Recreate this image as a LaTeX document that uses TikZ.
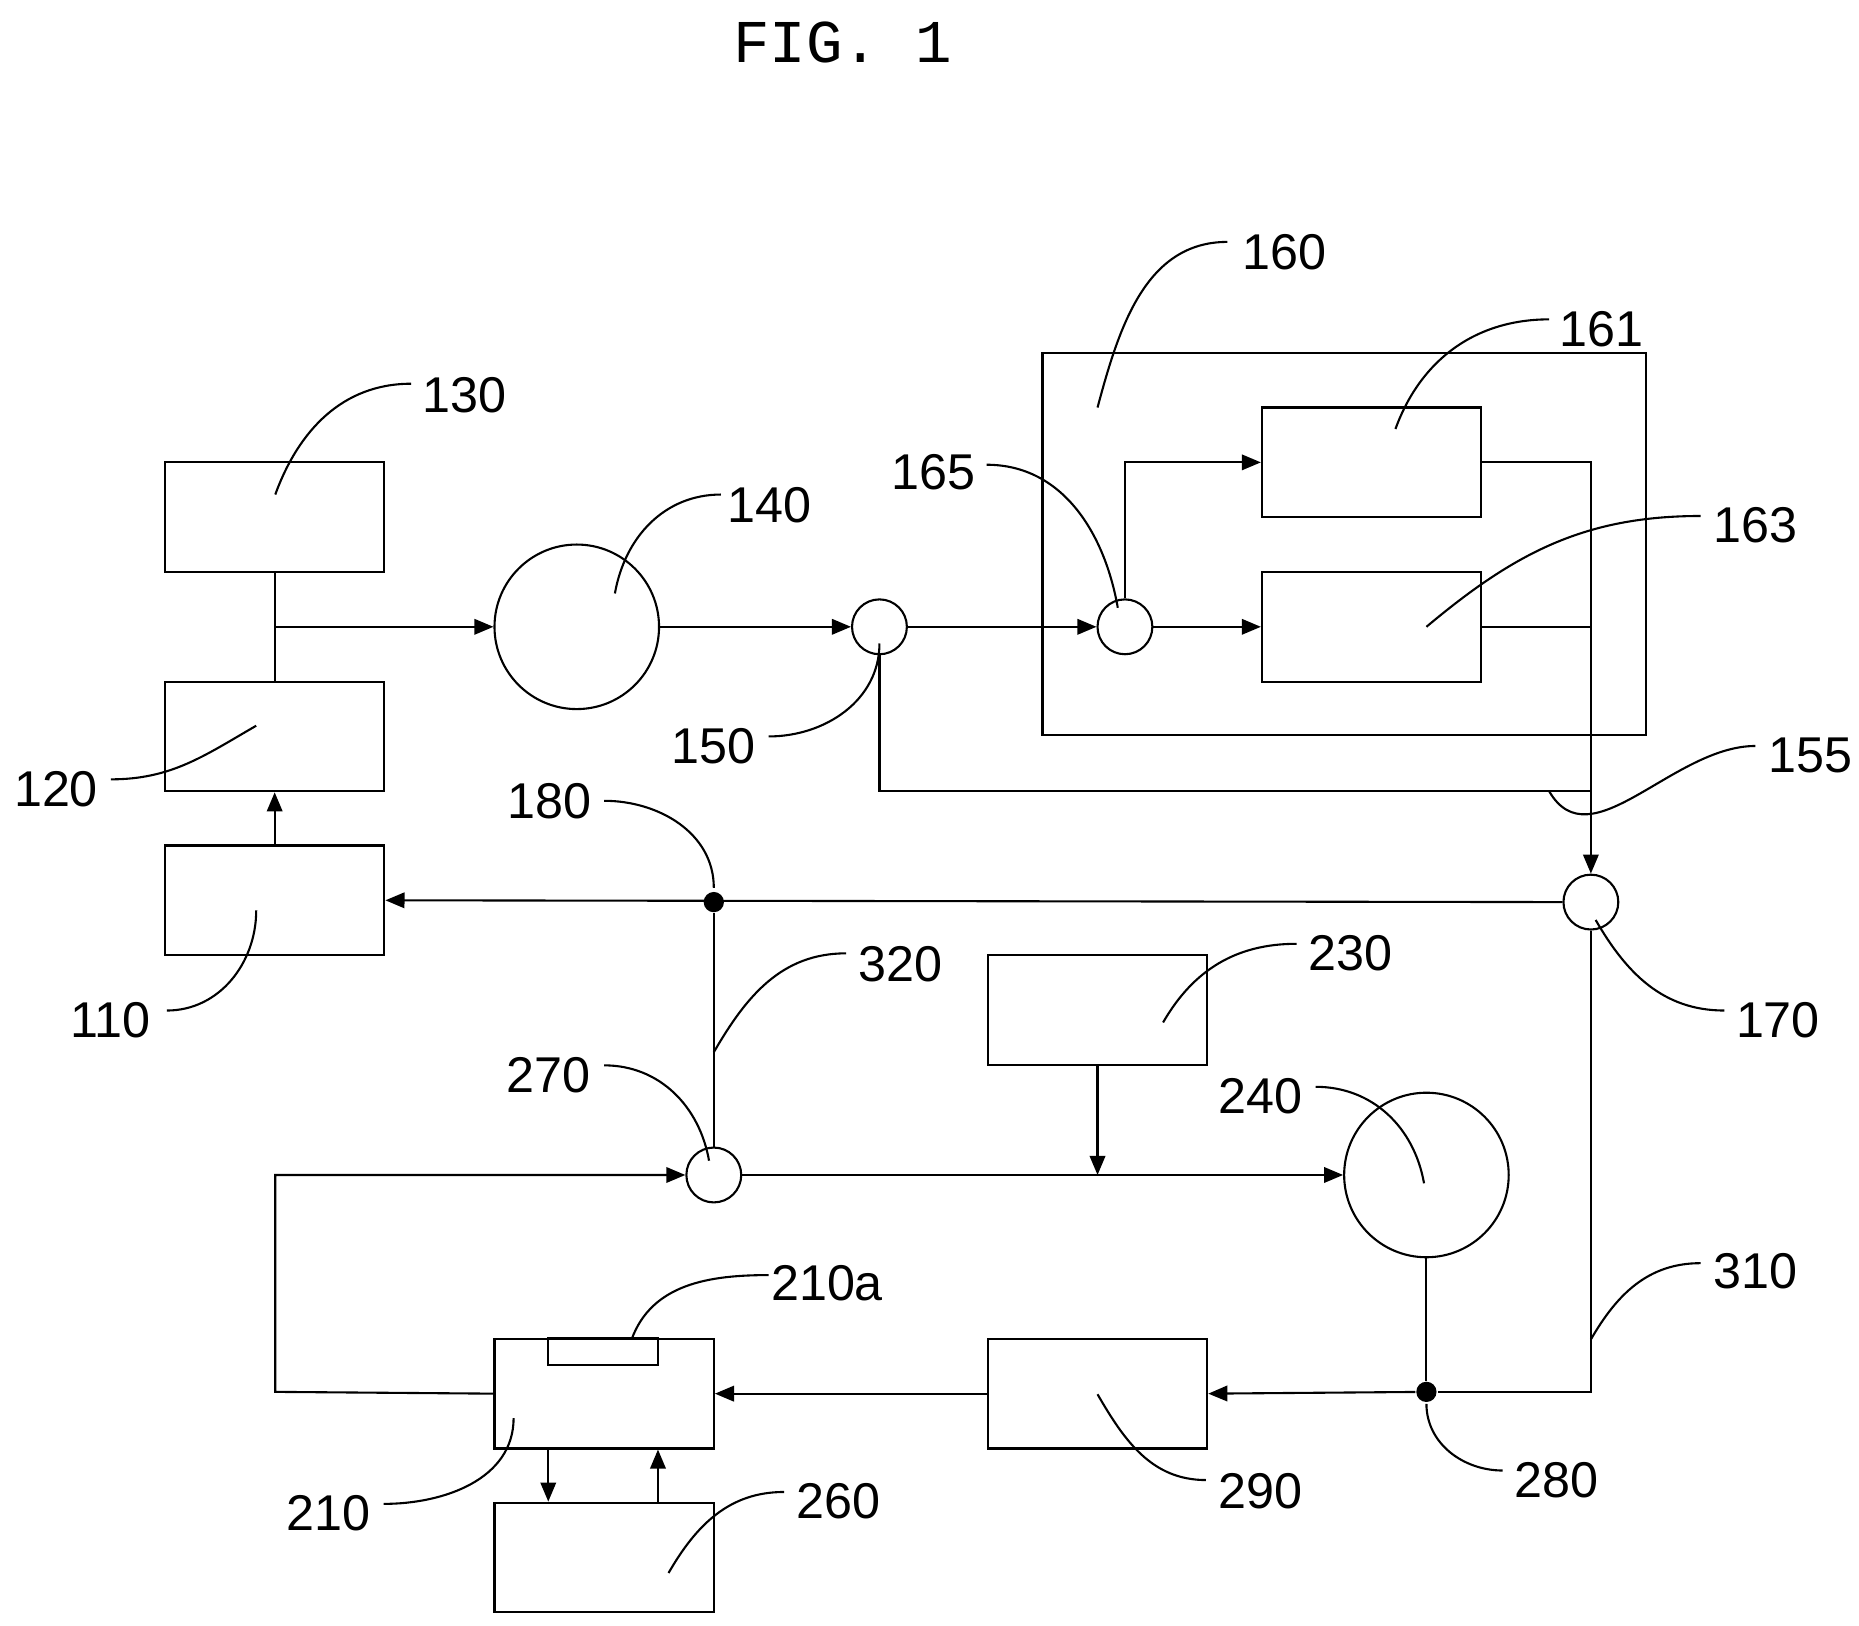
\documentclass[tikz,border=0pt]{standalone}
\usepackage{fontspec}
\setmainfont{Liberation Sans}
\newfontfamily\monofont{Liberation Mono}
\usetikzlibrary{arrows.meta}
\begin{document}
\begin{tikzpicture}[x=0.01cm,y=-0.01cm,line width=0.5pt,
  box/.style={draw,minimum width=1.84cm,minimum height=0.92cm,inner sep=0},
  sc/.style={draw,circle,minimum size=0.46cm,inner sep=0},
  bc/.style={draw,circle,minimum size=1.38cm,inner sep=0},
  dot/.style={fill,circle,minimum size=0.17cm,inner sep=0},
  arr/.style={-{Triangle[length=0.16cm,width=0.13cm]}},
  lab/.style={font=\fontsize{12}{12}\selectfont,inner sep=1pt},
  lead/.style={line width=0.5pt}]
\useasboundingbox (0,0) rectangle (1560,1364);
\node[font=\monofont\fontsize{14.5}{14.5}\selectfont] (title) at (707,36) {FIG. 1};
% blocks
\node[box] (b130) at (230.5,434) {};
\node[box] (b120) at (230.5,618) {};
\node[box] (b110) at (230.5,755.5) {};
\node[bc] (c140) at (484,526) {};
\node[sc] (c150) at (738,526) {};
\node[draw,minimum width=5.06cm,minimum height=3.21cm,inner sep=0] (b160) at (1128,456.5) {};
\node[sc] (c165) at (944,526) {};
\node[box] (b161) at (1151,388) {};
\node[box] (b163) at (1151,526) {};
\node[sc] (c170) at (1335,757) {};
\node[dot] (d180) at (599,757) {};
\node[sc] (c270) at (599,986) {};
\node[box] (b230) at (921,847.5) {};
\node[bc] (c240) at (1197,986) {};
\node[box] (b210) at (507,1169.5) {};
\node[box] (b290) at (921,1169.5) {};
\node[box] (b260) at (507,1307) {};
\node[dot] (d280) at (1197,1168) {};
\coordinate (j155) at (1335,664);
\coordinate (jL) at (231,1168);
% connectors
\draw (b130.south) -- (b120.north);
\draw[arr] (b130.south |- c140.west) -- (c140.west);
\draw[arr] (c140.east) -- (c150.west);
\draw[arr] (c150.east) -- (c165.west);
\draw[arr] (c165.east) -- (b163.west);
\draw[arr] (c165.north) |- (b161.west);
\draw[arr] (b161.east) -| (c170.north);
\draw (b163.east) -- (b163.east -| c170.north);
\draw (c150.south) |- (j155);
\draw[arr] (c170.west) -- (b110.east);
\draw[arr] (b110.north) -- (b120.south);
\draw (d180) -- (c270.north);
\draw[arr] (b230.south) -- (b230.south |- c270.east);
\draw[arr] (c270.east) -- (c240.west);
\draw[arr] (b210.west) -- (jL) |- (c270.west);
\draw (c240.south) -- (d280);
\draw (c170.south) |- (d280);
\draw[arr] (d280) -- (b290.east);
\draw[arr] (b290.west) -- (b210.east);
\draw[arr] ([xshift=0.46cm]b210.south west) -- ([xshift=0.46cm]b260.north west);
\draw[arr] ([xshift=1.38cm]b260.north west) -- ([xshift=1.38cm]b210.south west);
\draw ([xshift=0.46cm]b210.north west) rectangle ([xshift=1.38cm,yshift=-0.23cm]b210.north west);
% labels
\node[lab] (l130) at (390,332) {130};
\node[lab] (l140) at (646,424) {140};
\node[lab] (l165) at (783,396) {165};
\node[lab] (l160) at (1078,212) {160};
\node[lab] (l161) at (1344,276) {161};
\node[lab] (l163) at (1473,441) {163};
\node[lab] (l150) at (599,626) {150};
\node[lab] (l120) at (47,662) {120};
\node[lab] (l155) at (1519,634) {155};
\node[lab] (l180) at (461,672) {180};
\node[lab] (l110) at (93,856) {110};
\node[lab] (l320) at (756,809) {320};
\node[lab] (l230) at (1133,800) {230};
\node[lab] (l270) at (460,902) {270};
\node[lab] (l240) at (1058,920) {240};
\node[lab] (l170) at (1492,856) {170};
\node[lab] (l310) at (1473,1067) {310};
\node[lab] (l210a) at (694,1077) {210a};
\node[lab] (l280) at (1306,1242) {280};
\node[lab] (l290) at (1058,1251) {290};
\node[lab] (l210) at (276,1270) {210};
\node[lab] (l260) at (704,1260) {260};
% leaders
\draw[lead] (231,415) to[out=70,in=180] (345,322);
\draw[lead] (516,498) to[out=80,in=180] (605,415);
\draw[lead] (938,510) to[out=100,in=0] (828,390);
\draw[lead] (921,342) to[out=75,in=180] (1030,203);
\draw[lead] (1171,360) to[out=70,in=180] (1300,268);
\draw[lead] (1197,526) to[out=40,in=180] (1427,433);
\draw[lead] (738,540) to[out=-90,in=0] (645,618);
\draw[lead] (215,609) to[out=-150,in=0] (93,654);
\draw[lead] (1300,664) to[out=-60,in=180] (1473,626);
\draw[lead] (599,745) to[out=90,in=0] (507,672);
\draw[lead] (215,764) to[out=-90,in=0] (140,848);
\draw[lead] (599,883) to[out=60,in=180] (710,800);
\draw[lead] (976,858) to[out=60,in=180] (1088,792);
\draw[lead] (595,974) to[out=100,in=0] (507,894);
\draw[lead] (1195,993) to[out=100,in=0] (1104,912);
\draw[lead] (1339,772) to[out=-60,in=180] (1447,848);
\draw[lead] (1335,1124) to[out=60,in=180] (1427,1060);
\draw[lead] (530,1124) to[out=70,in=180] (645,1070);
\draw[lead] (1197,1178) to[out=-90,in=180] (1261,1234);
\draw[lead] (921,1170) to[out=-60,in=180] (1012,1242);
\draw[lead] (431,1190) to[out=-90,in=0] (322,1262);
\draw[lead] (561,1320) to[out=60,in=180] (658,1252);
\end{tikzpicture}
\end{document}
